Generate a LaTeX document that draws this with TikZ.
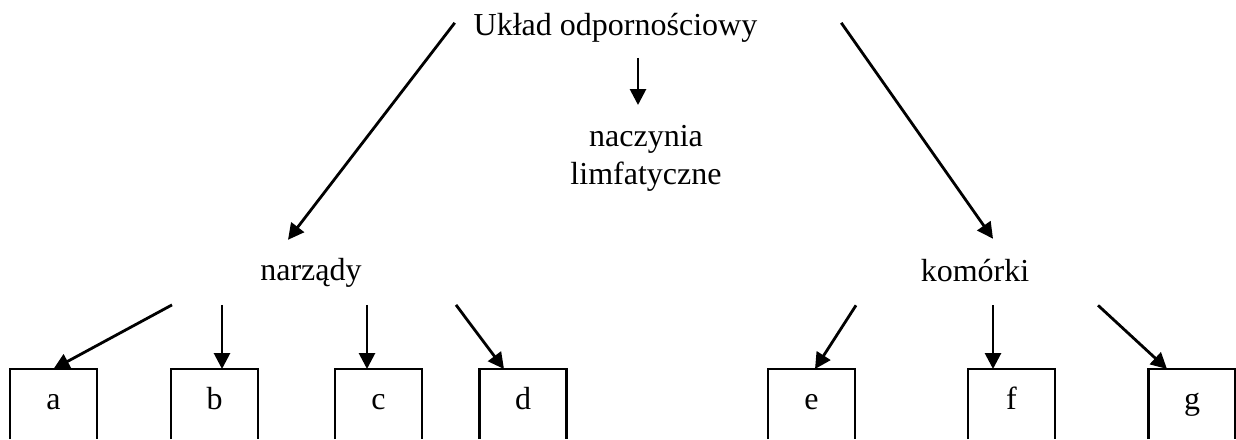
\documentclass[tikz,border=0pt]{standalone}
\usepackage{fontspec}
\setmainfont{Liberation Serif}
\usetikzlibrary{arrows.meta, calc}

\tikzset{
  lbl/.style={inner sep=0pt, outer sep=0pt, anchor=base, font=\fontsize{16}{19}\selectfont},
  letterbox/.style={anchor=north, inner sep=0pt, outer sep=0pt, minimum width=43.5pt, minimum height=35pt,
    text height=1.5ex, text depth=0.4ex, font=\fontsize{16}{19}\selectfont},
  arr/.style={-{Triangle[length=8pt, width=8pt]}, line width=1.4pt},
}

\begin{document}
\begin{tikzpicture}[x=0.5pt, y=-0.5pt]
\useasboundingbox (0,0) rectangle (1236,439);

% Labels
\node[lbl] (uklad) at (615.5,35) {Układ odpornościowy};
\node[lbl, anchor=north, align=center] (naczynia) at (646,125) {naczynia\\limfatyczne};
\node[lbl] (narzady) at (311,280) {narządy};
\node[lbl] (komorki) at (975,281) {komórki};

% Boxes (open at the bottom)
\foreach \b/\x in {a/53.5, b/214.5, c/378.5, d/523, e/811.5, f/1011.5, g/1192} {
  \node[letterbox] (box\b) at (\x,369) {\b};
  \draw[line width=1.1pt] (box\b.south west) |- (box\b.north east) -- (box\b.south east);
}

% Main arrows
\draw[arr] ($(uklad.west)+(-19,-4.5)$) -- ($(narzady.north)+(-23,-18)$);
\draw[arr] ($(uklad.south)+(22.5,16)$) -- ($(naczynia.north)+(-8,-20)$);
\draw[arr] ($(uklad.east)+(84,-4.5)$) -- ($(komorki.north)+(18,-20)$);

% Arrows to boxes
\foreach \dx/\b/\ex in {-139/a/0, -89/b/7.5, 56/c/-11.5, 145/d/-19}
  \draw[arr] ($(narzady.south)+(\dx,18)$) -- ($(box\b.north)+(\ex,0)$);
\foreach \dx/\b/\ex in {-119/e/3.5, 18/f/-18.5, 123/g/-25}
  \draw[arr] ($(komorki.south)+(\dx,24)$) -- ($(box\b.north)+(\ex,0)$);

\end{tikzpicture}
\end{document}
